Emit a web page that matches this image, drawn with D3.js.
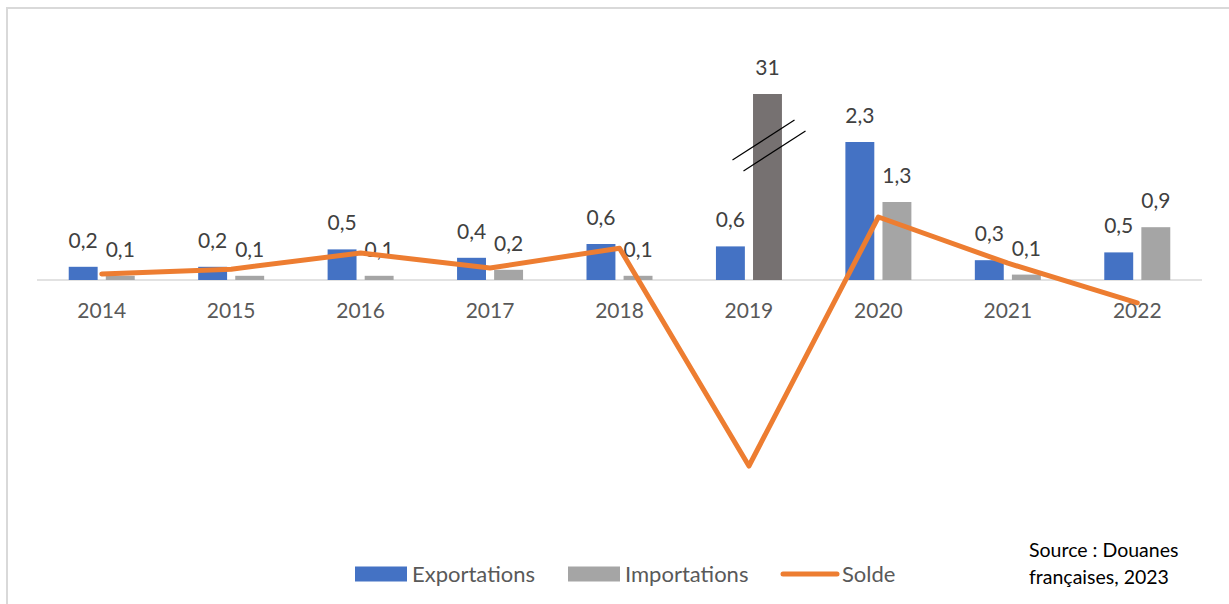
<!DOCTYPE html>
<html>
<head>
<meta charset="utf-8">
<script src="https://cdn.jsdelivr.net/npm/d3@7"></script>
<style>
  body { margin: 0; background: #fff; }
  svg { display: block; font-family: Lato, "Open Sans", sans-serif; }
</style>
</head>
<body>
<svg width="1229" height="604"></svg>
<script>
// values (millions d'euros)
let years = ["2014", "2015", "2016", "2017", "2018", "2019", "2020", "2021", "2022"];
let exportations = [0.22, 0.22, 0.51, 0.37, 0.6, 0.56, 2.3, 0.33, 0.46];
let importations = [0.07, 0.07, 0.07, 0.17, 0.07, 31, 1.3, 0.09, 0.88];
let solde = [0.1, 0.18, 0.45, 0.2, 0.53, -30.4, 1.05, 0.28, -0.38];
let seriesNames = ["Exportations", "Importations", "Solde"];

// the chart cuts very large values (2019) with a break mark
let cap = 3.1;
let clampV = v => Math.max(-cap, Math.min(cap, v));

let svg = d3.select("svg");
let width = 1229, height = 604;

// frame
svg.append("path")
    .attr("d", `M 7 ${height} L 7 8 L ${width} 8`)
    .attr("fill", "none")
    .attr("stroke", "#d9d9d9")
    .attr("stroke-width", 2);

let x = d3.scaleBand().domain(years).range([37, 1202]).padding(0);
let x1 = d3.scaleBand().domain(["exp", "imp"]).range([-33, 33]).paddingInner(0.22);
let y = d3.scaleLinear().domain([-4, 3.5]).range([520, 70]);

let fmt = v => (Math.abs(v) >= 10 ? d3.format(".0f")(v) : d3.format(".1f")(v)).replace(".", ",");

let rows = years.map((yr, i) => ({
    year: yr,
    bars: [
        { key: "exp", value: exportations[i], year: yr },
        { key: "imp", value: importations[i], year: yr }
    ]
}));

let color = (d) => {
    if (d.key === "exp") return "#4472c4";
    return d.value > cap ? "#767171" : "#a5a5a5";
};

let g = svg.append("g");

// axis baseline
g.append("line")
    .attr("x1", x.range()[0]).attr("x2", x.range()[1])
    .attr("y1", y(0)).attr("y2", y(0))
    .attr("stroke", "#d9d9d9")
    .attr("stroke-width", 1.5);

// bars
let groups = g.selectAll(".year")
    .data(rows)
    .enter().append("g")
    .attr("class", "year")
    .attr("transform", d => `translate(${x(d.year) + x.bandwidth() / 2},0)`);

groups.selectAll("rect")
    .data(d => d.bars)
    .enter().append("rect")
    .attr("x", d => x1(d.key))
    .attr("width", x1.bandwidth())
    .attr("y", d => y(clampV(d.value)))
    .attr("height", d => y(0) - y(clampV(d.value)))
    .attr("fill", color);

// break marks on truncated bars
groups.selectAll(".brk")
    .data(d => d.bars.filter(b => b.value > cap))
    .enter().append("g")
    .attr("class", "brk")
    .each(function (d) {
        let cx = x1(d.key) + x1.bandwidth() / 2;
        let top = y(clampV(d.value));
        let sel = d3.select(this);
        [[-35, 66, 27, 26], [-24, 77, 38, 37]].forEach(o => {
            sel.append("line")
                .attr("x1", cx + o[0]).attr("y1", top + o[1])
                .attr("x2", cx + o[2]).attr("y2", top + o[3])
                .attr("stroke", "#000")
                .attr("stroke-width", 1.2);
        });
    });

// data labels
groups.selectAll(".lbl")
    .data(d => d.bars)
    .enter().append("text")
    .attr("class", "lbl")
    .attr("x", d => x1(d.key) + x1.bandwidth() / 2)
    .attr("y", d => y(clampV(d.value)) - 19)
    .attr("text-anchor", "middle")
    .attr("font-size", 21)
    .attr("fill", "#404040")
    .text(d => fmt(d.value));

// category labels
g.selectAll(".cat")
    .data(years)
    .enter().append("text")
    .attr("class", "cat")
    .attr("x", d => x(d) + x.bandwidth() / 2)
    .attr("y", y(0) + 38)
    .attr("text-anchor", "middle")
    .attr("font-size", 21)
    .attr("fill", "#595959")
    .text(d => d);

// solde line
let line = d3.line()
    .x((d, i) => x(years[i]) + x.bandwidth() / 2)
    .y(d => y(clampV(d)));

g.append("path")
    .datum(solde)
    .attr("d", line)
    .attr("fill", "none")
    .attr("stroke", "#ed7d31")
    .attr("stroke-width", 5)
    .attr("stroke-linejoin", "round")
    .attr("stroke-linecap", "round");

// legend
let legend = svg.append("g").attr("font-size", 22).attr("fill", "#595959");
let legendX = [355, 568, 781];
seriesNames.forEach((name, i) => {
    let lg = legend.append("g").attr("transform", `translate(${legendX[i]},574)`);
    if (i < 2) {
        lg.append("rect")
            .attr("x", 0).attr("y", -7.5)
            .attr("width", 52).attr("height", 15)
            .attr("fill", i === 0 ? "#4472c4" : "#a5a5a5");
        lg.append("text").attr("x", 57).attr("y", 8).text(name);
    } else {
        lg.append("line")
            .attr("x1", 2).attr("x2", 56).attr("y1", 0).attr("y2", 0)
            .attr("stroke", "#ed7d31").attr("stroke-width", 5)
            .attr("stroke-linecap", "round");
        lg.append("text").attr("x", 61).attr("y", 8).text(name);
    }
});

// source note
let src = svg.append("text")
    .attr("x", 1029)
    .attr("font-size", 19.5)
    .attr("fill", "#000");
src.append("tspan").attr("x", 1029).attr("y", 557).text("Source : Douanes");
src.append("tspan").attr("x", 1029).attr("y", 584).text("françaises, 2023");
</script>
</body>
</html>
